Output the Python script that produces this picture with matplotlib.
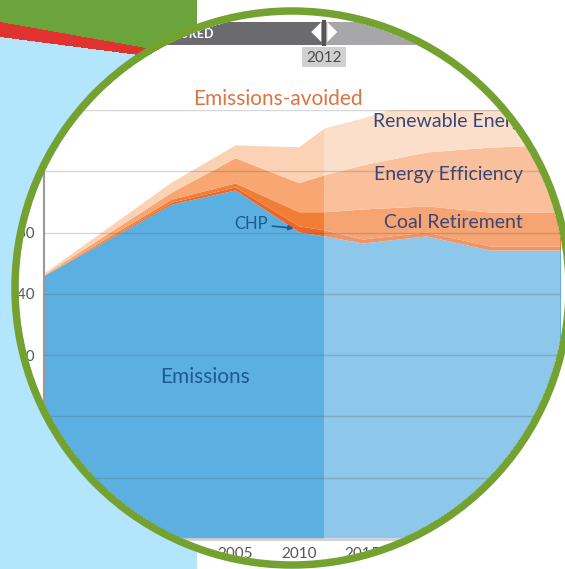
import matplotlib
matplotlib.use('Agg')
import numpy as np
import matplotlib.pyplot as plt
import matplotlib.transforms as mtransforms
from matplotlib.colors import to_rgb
from matplotlib.patches import Circle, Rectangle, Polygon

plt.rcParams['font.family'] = ['Lato', 'DejaVu Sans']

# data (million tons, stacked layers)
years = [1990, 2000, 2005, 2010, 2012, 2015, 2020, 2025, 2030, 2031]
emissions = [146.0, 169.3, 173.9, 160.2, 158.9, 156.6, 158.9, 154.3, 154.3, 154.3]
chp = [0.0, 0.6, 1.0, 2.0, 2.0, 1.3, 1.3, 1.3, 1.3, 1.3]
coal = [0.0, 1.0, 1.3, 4.6, 5.9, 9.8, 8.5, 11.1, 11.1, 11.1]
efficiency = [0.3, 2.3, 8.2, 9.5, 12.1, 14.4, 17.6, 21.2, 21.9, 22.0]
renewable = [0.5, 3.3, 4.2, 11.7, 15.3, 15.3, 17.6, 21.2, 22.5, 22.8]

layers = [emissions, chp, coal, efficiency, renewable]
layer_colors = ['#5cafe1', '#e9672a', '#f27d36', '#f8a672', '#fcd2b5']

yticks = [60, 80, 100, 120, 140, 160, 180, 200]
xticks = [1990, 1995, 2000, 2005, 2010, 2015, 2020, 2025, 2030]
split_year = 2012

W, H = 565, 569
cx, cy, r_ring, ring_w = 292, 288, 277, 7.5
r_in = r_ring - ring_w / 2

fig = plt.figure(figsize=(W / 100, H / 100), dpi=100, facecolor='white')

# pixel-coord layer under the chart (slider banner)
bg = fig.add_axes([0, 0, 1, 1], zorder=0)
bg.set_xlim(0, W)
bg.set_ylim(H, 0)
bg.axis('off')

# chart axes
ax = fig.add_axes([44 / W, (H - 539) / H, (560 - 44) / W, (539 - 110) / H], zorder=1)
ax.patch.set_visible(False)
ax.set_xlim(1990, 2030.5)
ax.set_ylim(yticks[0], yticks[-1])

lower = [yticks[0]] * len(years)
base = [0] * len(years)
for vals, col in zip(layers, layer_colors):
    upper = [a + b for a, b in zip(base, vals)]
    ax.fill_between(years, lower, upper, color=col, lw=0, zorder=2)
    lower = upper
    base = upper

# projection part is washed out
ax.axvspan(split_year, 2031, color='white', alpha=0.3, lw=0, zorder=3)
ax.hlines(yticks[1:], 1990, 2031, colors='#4d4d4d', alpha=0.22, lw=1, zorder=4)

for side in ['top', 'right']:
    ax.spines[side].set_visible(False)
ax.spines['left'].set_bounds(60, 180)
ax.spines['left'].set_color('#9a9a9a')
ax.spines['left'].set_linewidth(1.5)
ax.spines['bottom'].set_color('#cfcfcf')
ax.spines['bottom'].set_linewidth(2)

ax.set_yticks(yticks)
ax.set_yticklabels([str(v) for v in yticks])
ax.set_xticks(xticks)
ax.set_xticklabels([str(v) for v in xticks])
ax.tick_params(length=0, labelsize=11, labelcolor='#555555')
ax.tick_params(axis='y', pad=6.5)
ax.tick_params(axis='x', pad=6)

ax.text(2015.8, 196.1, 'Renewable Energy', ha='left', va='center', fontsize=14, color='#3b4677', zorder=6)
ax.text(2027.6, 178.8, 'Energy Efficiency', ha='right', va='center', fontsize=14, color='#3b4677', zorder=6)
ax.text(2027.6, 163.4, 'Coal Retirement', ha='right', va='center', fontsize=14, color='#3b4677', zorder=6)
ax.text(2002.6, 112.9, 'Emissions', ha='center', va='center', fontsize=15, color='#1d5a94', zorder=6)
ax.annotate('CHP', xy=(2009.6, 161.4), xytext=(2007.6, 162.8), ha='right', va='center',
            fontsize=12, color='#1d5a94', zorder=6,
            arrowprops=dict(arrowstyle='-|>', color='#1d5a94', lw=1.2, mutation_scale=7,
                            shrinkA=1, shrinkB=0))
ax.text(2008.4, 203.6, 'Emissions-avoided', ha='center', va='center', fontsize=15,
        color='#dc7440', zorder=6)

# top slider banner
trans = mtransforms.blended_transform_factory(ax.transData, bg.transData)
px = ax.transData.transform((split_year, 0))[0]
bg.add_patch(Rectangle((1985, 22), split_year - 1985, 23, transform=trans, color='#6b6b6f', lw=0, zorder=3))
bg.add_patch(Rectangle((split_year, 22), 25, 23, transform=trans, color='#a7a7aa', lw=0, zorder=3))
bg.add_patch(Rectangle((px - 2, 20), 4, 26, color='#555555', lw=0, zorder=4))
bg.add_patch(Polygon([(px - 3, 22), (px - 3, 42), (px - 13, 32)], color='white', lw=0, zorder=4))
bg.add_patch(Polygon([(px + 3, 22), (px + 3, 42), (px + 13, 32)], color='white', lw=0, zorder=4))
bg.add_patch(Rectangle((px - 22, 47), 44, 20, color='#d0d0d0', lw=0, zorder=3))
bg.text(px, 57.5, '2012', ha='center', va='center', fontsize=11, color='#4a4a4a', zorder=5)
bg.text(213, 33.5, 'MEASURED', ha='right', va='center', fontsize=9, fontweight='bold',
        color='white', zorder=5)

# page background outside the lens, drawn over the chart with a round hole
yy, xx = np.mgrid[0:H, 0:W] + 0.5
page = np.ones((H, W, 4))
left = xx < 197
page[left, :3] = to_rgb('#b3e5fc')
page[left & (yy < 37 + 0.13 * xx), :3] = to_rgb('#6aa43a')
page[left & (yy >= 22 + 0.178 * xx) & (yy < 37 + 0.13 * xx), :3] = to_rgb('#e0322e')
page[(xx - cx) ** 2 + (yy - cy) ** 2 < r_in ** 2, 3] = 0

top = fig.add_axes([0, 0, 1, 1], zorder=2)
top.imshow(page, extent=(0, W, H, 0), interpolation='nearest', aspect='auto', zorder=1)
top.set_xlim(0, W)
top.set_ylim(H, 0)
top.axis('off')
top.patch.set_visible(False)
top.add_patch(Circle((cx, cy), r_ring, fill=False, ec='#74a230', lw=ring_w * 0.72, zorder=2))

fig.savefig('out.png', dpi=100)
